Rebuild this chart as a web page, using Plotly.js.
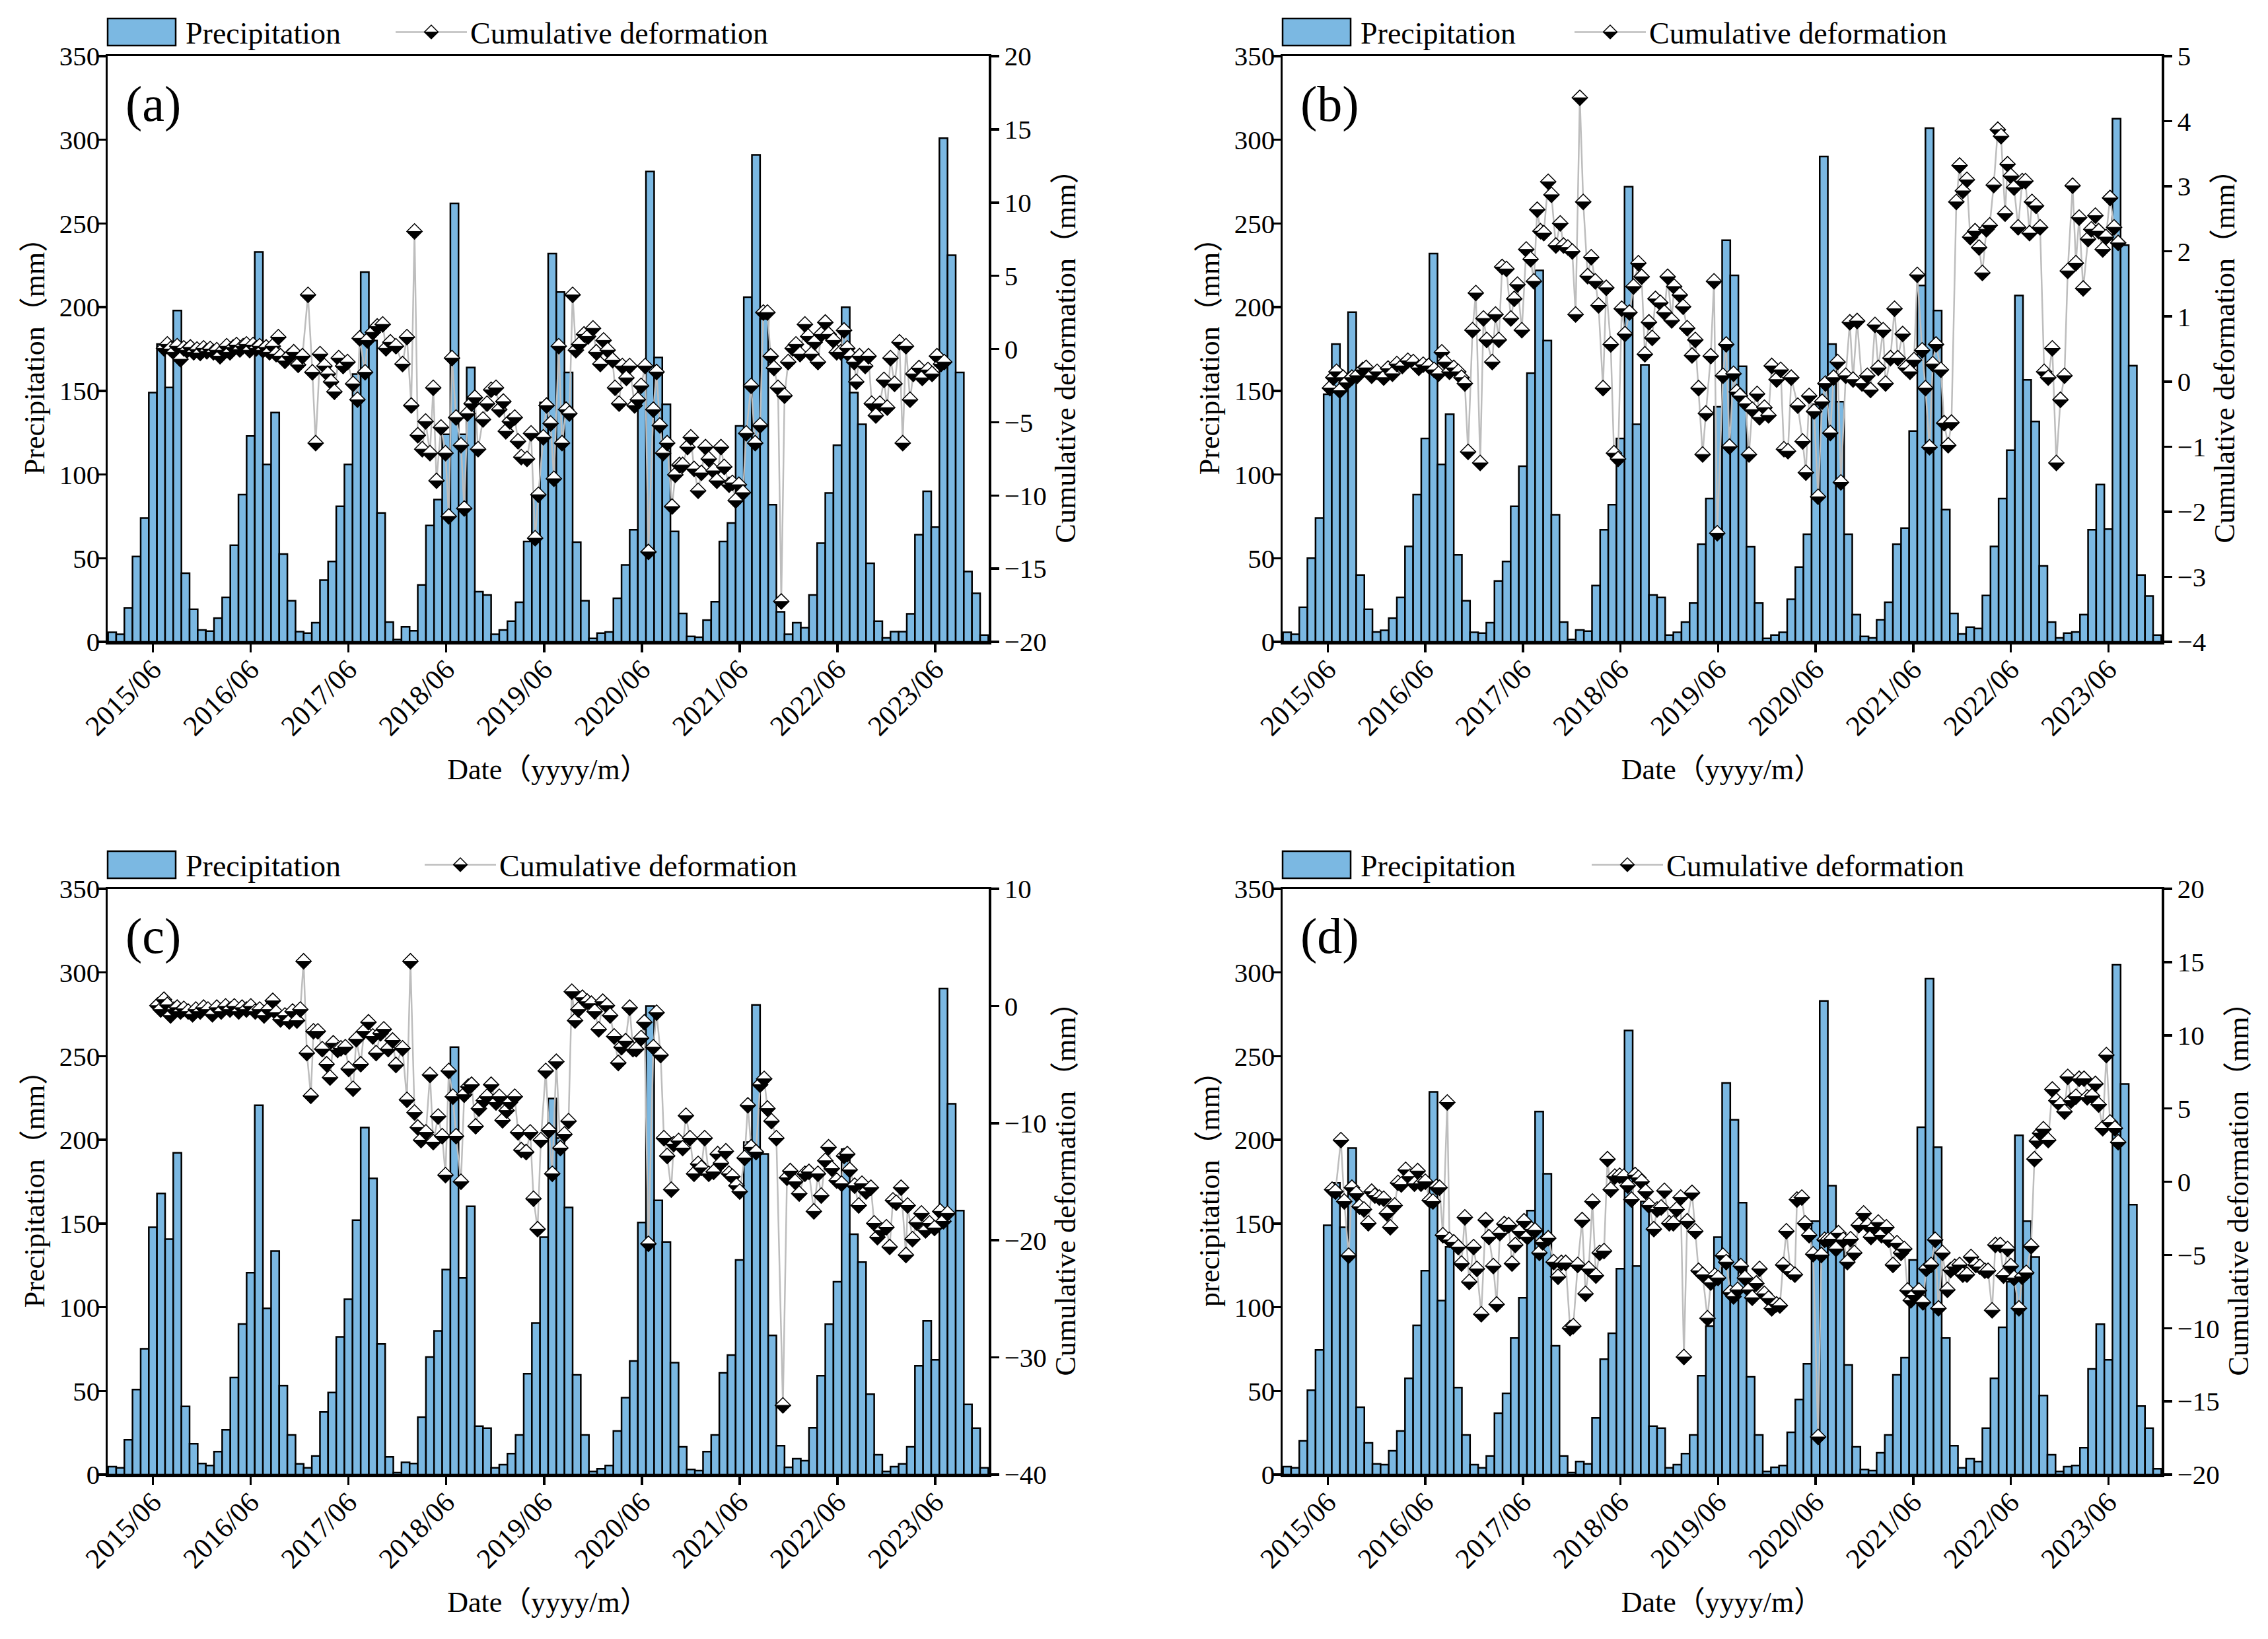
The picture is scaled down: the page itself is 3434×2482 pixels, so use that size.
<!DOCTYPE html>
<html><head><meta charset="utf-8">
<script src="https://cdn.plot.ly/plotly-3.0.1.min.js"></script>
<style>html,body{margin:0;padding:0;background:#fff}#chart{width:3434px;height:2482px}</style>
</head><body><div id="chart"></div>
<script>
// ---------- DATA ----------
// x axis: months since 2015/01 (0 = 2015/01, 107 = 2023/12)
const tickMonths = [5, 17, 29, 41, 53, 65, 77, 89, 101];
const tickLabels = ['2015/06','2016/06','2017/06','2018/06','2019/06','2020/06','2021/06','2022/06','2023/06'];

// monthly precipitation (mm), 2015/01 .. 2023/12
const precipA = [5.7,4.5,20.3,51,74,149,178,152,198,41,19.4,7.1,
  6.4,14.2,26.5,57.7,88,123,233,106,137,52.5,24.6,6.1,
  5.2,11.4,36.9,48,81,106,160,221,180,77,11.8,1.4,
  9.0,6.6,34,69.5,85,124,262,124,164,30,28,4.5,
  7.1,12.3,23.7,60,88.5,143,232,209,161,59.6,24.6,2.1,
  5.2,5.9,26,46,67,151,281,170,142,66,17,3.3,
  2.8,13,24,60,71,129,206,291,193,82,18,4.5,
  11.4,8.5,28,59,89,117.5,200,149,130,47,12.3,2.4,
  6.1,6.1,16.8,64,90,68.6,301,231,161,42,29,4];
const precipB = [5.7,4.5,20.6,50,74,148,178,151,197,40,19.4,5.9,
  6.9,14.2,26.5,57,88,121.5,232,106,136,52,24.6,5.7,
  5.2,11.4,36.4,48,81,105,160.6,222,180,76,11.8,1.4,
  7.1,6.4,33.6,67,82,121.5,272,130,165.5,28,26.5,4,
  5.7,11.8,23.2,58.4,85.6,140.5,240,219,164.6,56.8,23.2,2.1,
  4,5.7,25.5,44.7,64.3,142,290,178,143.5,64.3,16.3,3.3,
  2.4,13.2,23.7,58.4,68,126,213,307,198,79,17,4.7,
  8.8,8,27.7,57,85.6,114.5,207,156.6,131.7,45.4,11.8,2.4,
  5.2,5.9,16.3,67,94,67.4,312.6,237,165,40,27.4,4];
const precipC = [4.7,4.0,20.8,50.8,75.2,147.8,168,140.7,192.3,40.7,18.4,6.6,
  5.4,13.7,26.7,58,90,120.6,220.7,99.3,133.6,53.2,23.7,6.4,
  4,11.1,37.4,49,82.3,104.8,152,207.4,177,78,10.6,1.2,
  7.3,6.6,34.3,70.2,85.8,122.5,255.4,117.5,160.3,28.9,27.7,4,
  5.9,12.5,23.7,60.3,90.6,141.9,224.7,201,159.6,59.6,23.7,1.9,
  3.5,5.4,26,46,67.9,150.6,280,163.9,139,66.9,16.6,3.1,
  2.4,13.7,23.7,60.8,71.4,128.2,198.7,280.7,191.6,83.2,17.3,4.3,
  9.5,8.3,27.9,59.1,89.9,115.2,194.4,143.6,127,48,11.8,1.9,
  4.7,6.4,16.6,65,91.8,68.6,290.4,221.6,157.7,41.9,27.7,4];
const precipD = [4.7,4.0,20.1,50.4,74.5,149,174.3,147.8,195.1,40.2,18.9,6.4,
  5.9,14.2,26,57.5,89.2,121.8,228.7,104,136,52,23.7,5.9,
  4,11.1,36.7,48.5,81.6,105.7,157.7,216.9,179.7,76.9,11.1,1.2,
  7.8,6.4,33.8,69,84.4,123,265.4,124.6,163.2,28.9,27.7,4,
  5.9,12.5,23.7,59.1,88.7,141.9,234,212,162.5,58.4,23.7,1.9,
  4.3,5.4,25.3,44.9,66.2,151.4,283,172.6,139.5,65.5,16.6,3.1,
  2.4,13,23.7,59.6,69.8,128.2,207.6,296.3,195.6,81.6,17.3,4,
  9.5,7.8,27.7,57.5,88,115.2,202.7,151.4,130,47.3,11.8,1.9,
  4.7,5.4,16.1,63.1,89.9,68.6,304.6,233.4,161.3,40.9,27.7,3.5];

// cumulative deformation (mm): [month position, value]
const defA = [[6.36,0.05],[6.77,0.32],[7.17,0.0],[7.58,-0.22],[7.98,0.19],[8.39,-0.70],[8.79,0.05],[9.20,-0.08],[9.60,0.11],[10.01,-0.22],[10.41,-0.03],[10.81,-0.27],[11.22,0.05],[11.62,-0.16],[12.03,0.0],[12.43,-0.22],[12.84,-0.08],[13.24,-0.49],[13.65,-0.08],[14.05,0.19],[14.46,-0.22],[14.86,0.11],[15.26,0.27],[15.67,-0.03],[16.07,0.19],[16.48,0.32],[16.88,-0.08],[17.29,0.27],[17.69,0.05],[18.10,0.19],[18.50,-0.08],[18.90,0.11],[19.31,-0.22],[19.71,0.19],[20.12,-0.35],[20.39,0.81],[20.66,-0.49],[21.20,-0.81],[21.74,-0.49],[22.28,-0.22],[22.82,-1.08],[23.35,-0.49],[24.03,3.70],[24.57,-1.59],[24.97,-6.43],[25.51,-0.35],[26.05,-1.16],[26.46,-1.70],[26.86,-2.24],[27.27,-2.92],[27.80,-0.62],[28.34,-1.16],[28.88,-0.89],[29.56,-2.38],[30.10,-3.46],[30.37,0.73],[31.04,-1.59],[31.31,0.59],[31.98,1.14],[32.52,1.54],[33.20,1.68],[33.60,0.05],[34.14,0.46],[34.82,0.19],[35.63,-1.03],[36.17,0.81],[36.7,-3.86],[37.1,8.03],[37.5,-5.89],[38.05,-6.84],[38.46,-4.95],[39.0,-7.11],[39.4,-2.65],[39.8,-9.0],[40.35,-5.35],[40.9,-7.11],[41.3,-11.43],[41.7,-0.62],[42.2,-4.68],[42.8,-6.57],[43.2,-10.89],[43.6,-4.41],[44.1,-3.73],[44.5,-3.32],[44.9,-6.84],[45.5,-4.81],[46.0,-3.73],[46.5,-2.78],[47.1,-2.65],[47.5,-4.14],[48.0,-3.59],[48.3,-5.62],[48.8,-4.95],[49.4,-4.68],[49.8,-6.30],[50.2,-7.38],[50.9,-7.51],[51.4,-5.76],[51.9,-12.92],[52.3,-9.95],[52.9,-6.03],[53.3,-3.86],[53.8,-5.08],[54.2,-8.86],[54.8,0.19],[55.2,-6.43],[55.7,-4.14],[56.1,-4.41],[56.5,3.70],[56.9,-0.08],[57.3,0.32],[57.9,1.0],[58.4,0.86],[59.0,1.41],[59.4,-0.22],[59.9,-1.03],[60.3,0.59],[60.8,-0.08],[61.4,-0.76],[61.7,-2.65],[62.2,-3.73],[62.6,-1.16],[63.1,-1.97],[63.5,-1.16],[64.1,-3.86],[64.5,-3.46],[64.9,-2.51],[65.4,-1.16],[65.8,-13.86],[66.4,-4.14],[66.8,-1.57],[67.2,-5.22],[67.6,-7.11],[68.1,-6.43],[68.7,-10.76],[69.1,-8.59],[69.6,-7.92],[70.0,-7.92],[70.6,-6.70],[71.0,-6.03],[71.4,-8.19],[71.9,-9.68],[72.3,-8.46],[72.8,-6.70],[73.2,-7.51],[73.8,-8.32],[74.2,-9.0],[74.7,-6.70],[75.1,-8.05],[75.7,-9.27],[76.1,-9.14],[76.5,-10.35],[76.9,-9.27],[77.4,-9.81],[77.8,-5.76],[78.4,-2.51],[78.9,-6.43],[79.5,-5.22],[79.9,2.49],[80.4,2.49],[80.8,-0.49],[81.2,-1.30],[81.7,-2.65],[82.1,-17.24],[82.5,-3.19],[82.95,-0.89],[83.5,0.05],[83.9,0.32],[84.4,-0.35],[85.0,1.68],[85.4,0.86],[85.8,-0.35],[86.2,0.46],[86.6,-0.89],[87.0,1.0],[87.5,1.81],[87.9,1.0],[88.5,0.59],[88.9,-0.22],[89.4,-0.22],[89.8,1.27],[90.2,0.05],[90.6,-0.49],[91.05,-0.89],[91.3,-2.24],[91.7,-0.49],[92.4,-1.16],[92.8,-0.49],[93.2,-3.73],[93.7,-4.54],[94.2,-3.73],[94.7,-2.11],[95.1,-4.0],[95.5,-0.62],[96.0,-2.38],[96.6,0.46],[97.0,-6.43],[97.4,0.19],[97.9,-3.46],[98.3,-1.70],[99.0,-1.30],[99.4,-1.97],[100.1,-1.43],[100.6,-1.70],[101.2,-0.49],[101.7,-1.03],[102.1,-0.89]];
const defB = [[5.27,-0.10],[5.68,0.06],[6.08,0.15],[6.49,-0.14],[6.89,0.06],[7.30,-0.02],[7.97,0.06],[8.64,0.09],[9.32,0.18],[9.72,0.21],[10.4,0.09],[11.07,0.15],[11.88,0.06],[12.42,0.20],[12.96,0.12],[13.5,0.27],[14.17,0.24],[14.85,0.32],[15.52,0.30],[16.2,0.21],[16.74,0.26],[17.41,0.24],[18.08,0.18],[18.62,0.12],[19.03,0.45],[19.43,0.30],[19.97,0.15],[20.5,0.21],[21.05,0.15],[21.45,0.06],[21.86,-0.03],[22.26,-1.08],[22.8,0.79],[23.21,1.36],[23.75,-1.25],[24.15,0.97],[24.55,0.64],[25.23,0.30],[25.63,1.03],[26.04,0.64],[26.44,1.76],[26.98,1.73],[27.52,0.97],[27.93,1.27],[28.33,1.49],[28.87,0.79],[29.41,2.03],[29.95,1.88],[30.35,1.54],[30.76,2.64],[31.16,2.31],[31.57,2.28],[32.11,3.07],[32.51,2.87],[33.05,2.09],[33.59,2.43],[34.0,2.09],[34.53,2.06],[35.07,2.0],[35.48,1.03],[36.0,4.36],[36.42,2.76],[36.96,1.62],[37.4,1.91],[37.9,1.54],[38.3,1.17],[38.85,-0.10],[39.25,1.44],[39.8,0.57],[40.2,-1.10],[40.7,-1.19],[41.15,1.12],[41.55,0.73],[42.1,1.06],[42.6,1.46],[43.2,1.82],[43.6,1.61],[44.0,0.42],[44.5,0.91],[44.9,0.67],[45.3,1.27],[45.9,1.21],[46.4,1.06],[46.8,1.61],[47.3,0.94],[47.6,1.46],[48.3,1.33],[48.7,1.15],[49.2,0.82],[49.8,0.40],[50.2,0.64],[50.6,-0.10],[51.1,-1.12],[51.5,-0.49],[52.1,0.39],[52.5,1.54],[52.9,-2.33],[53.6,0.09],[54.0,0.57],[54.4,-1.0],[54.9,0.12],[55.3,-0.16],[55.7,-0.22],[56.4,-0.34],[56.8,-1.12],[57.2,-0.43],[57.8,-0.19],[58.1,-0.55],[58.7,-0.40],[59.2,-0.52],[59.6,0.24],[60.2,0.03],[60.7,0.18],[61.1,-1.04],[61.6,-1.07],[62.0,0.06],[62.8,-0.37],[63.4,-0.92],[63.8,-1.40],[64.2,-0.22],[64.8,-0.46],[65.3,-1.77],[65.8,-0.31],[66.2,-0.03],[66.8,-0.79],[67.2,0.06],[67.7,0.30],[68.1,-1.55],[68.7,0.09],[69.2,0.91],[69.6,0.03],[70.1,0.93],[70.7,-0.03],[71.35,0.09],[71.75,-0.13],[72.3,0.87],[72.7,0.21],[73.3,0.79],[73.6,-0.03],[74.2,0.36],[74.7,1.12],[75.1,0.36],[75.7,0.73],[76.1,0.21],[76.6,0.15],[77.1,0.33],[77.5,1.64],[78.1,0.48],[78.5,-0.10],[79.0,-1.01],[79.4,0.27],[79.8,0.57],[80.4,0.18],[80.8,-0.64],[81.3,-0.98],[81.7,-0.63],[82.3,2.76],[82.7,3.32],[83.1,2.93],[83.6,3.10],[84.0,2.22],[84.6,2.31],[85.1,2.06],[85.5,1.67],[86.0,2.34],[86.4,2.40],[86.9,3.02],[87.4,3.87],[87.8,3.77],[88.3,2.58],[88.6,3.34],[89.0,3.16],[89.4,2.98],[89.9,2.37],[90.4,3.08],[90.8,3.08],[91.3,2.28],[91.6,2.76],[92.1,2.70],[92.6,2.37],[93.1,0.15],[93.6,0.06],[94.1,0.51],[94.6,-1.25],[95.1,-0.28],[95.6,0.09],[96.0,1.70],[96.6,3.01],[97.0,1.82],[97.4,2.52],[97.9,1.43],[98.5,2.19],[98.9,2.34],[99.4,2.55],[99.8,2.31],[100.3,2.03],[100.7,2.22],[101.2,2.82],[101.7,2.37],[102.2,2.13]];
const defC = [[5.56,0.03],[5.96,-0.30],[6.36,0.54],[6.77,0.10],[7.17,-0.81],[7.58,-0.30],[7.98,-0.14],[8.39,-0.47],[8.79,-0.24],[9.33,-0.47],[9.87,-0.71],[10.27,-0.30],[10.81,-0.47],[11.22,-0.14],[11.76,-0.30],[12.30,-0.71],[12.84,-0.14],[13.38,-0.47],[13.92,-0.03],[14.46,-0.30],[14.99,-0.03],[15.53,-0.47],[15.94,-0.14],[16.48,-0.30],[17.02,-0.03],[17.56,-0.47],[18.10,-0.30],[18.64,-0.81],[19.17,-0.30],[19.71,0.44],[20.12,-0.57],[20.66,-1.15],[21.20,-0.81],[21.74,-1.32],[22.14,-0.47],[22.68,-1.25],[23.09,-0.30],[23.49,3.82],[23.89,-4.02],[24.38,-7.67],[24.70,-2.16],[25.24,-2.16],[25.78,-3.68],[26.32,-4.97],[26.73,-6.11],[27.13,-3.18],[27.67,-3.75],[28.07,-3.61],[28.61,-3.51],[29.02,-5.37],[29.56,-7.06],[29.96,-2.84],[30.50,-4.97],[30.91,-2.16],[31.45,-1.39],[31.98,-2.60],[32.39,-4.02],[32.93,-2.33],[33.33,-1.99],[33.87,-3.68],[34.41,-2.94],[34.82,-5.03],[35.63,-3.61],[36.17,-8.01],[36.6,3.82],[37.1,-9.09],[37.5,-10.37],[37.9,-11.45],[38.5,-10.78],[39.0,-5.88],[39.4,-11.62],[40.0,-9.43],[40.5,-11.11],[40.9,-14.43],[41.3,-5.54],[41.8,-7.74],[42.2,-11.11],[42.8,-15.0],[43.2,-7.57],[43.7,-6.89],[44.1,-6.72],[44.6,-10.27],[45.0,-8.75],[45.6,-8.07],[46.0,-7.74],[46.5,-6.72],[47.1,-8.24],[47.5,-7.74],[47.9,-9.76],[48.4,-8.92],[48.8,-8.24],[49.4,-7.74],[49.8,-10.78],[50.2,-12.30],[50.8,-12.47],[51.3,-10.78],[51.7,-16.45],[52.2,-19.05],[52.6,-11.45],[53.2,-5.54],[53.6,-10.61],[54.0,-14.32],[54.5,-4.76],[55.0,-12.13],[55.5,-10.95],[56.0,-9.83],[56.4,1.22],[56.8,-1.25],[57.2,-0.30],[57.7,0.71],[58.3,0.37],[58.8,0.20],[59.2,-0.47],[59.7,-1.99],[60.2,0.37],[60.7,0.03],[61.1,-0.81],[61.6,-2.60],[62.1,-4.86],[62.5,-3.51],[63.0,-3.0],[63.5,-0.14],[63.9,-3.68],[64.3,-3.68],[64.9,-2.74],[65.3,-1.39],[65.8,-20.30],[66.4,-3.51],[66.8,-0.57],[67.3,-4.19],[67.7,-11.28],[68.1,-12.80],[68.6,-15.68],[68.9,-11.79],[69.5,-11.52],[70.0,-12.13],[70.4,-9.36],[70.9,-11.28],[71.4,-14.32],[71.9,-13.48],[72.3,-13.82],[72.7,-11.28],[73.2,-14.32],[73.8,-14.16],[74.3,-12.64],[74.7,-13.41],[75.3,-12.40],[75.7,-14.32],[76.1,-14.56],[76.6,-15.34],[77.0,-15.84],[77.6,-12.97],[78.0,-8.48],[78.4,-12.06],[79.0,-12.47],[79.5,-6.72],[80.0,-6.22],[80.4,-8.75],[80.9,-9.83],[81.5,-11.28],[82.3,-34.09],[82.8,-14.66],[83.2,-14.09],[83.8,-15.0],[84.3,-16.01],[85.0,-14.32],[85.5,-14.16],[86.1,-17.53],[86.6,-14.32],[87.0,-16.18],[87.5,-13.21],[87.9,-12.06],[88.3,-13.88],[88.9,-14.90],[89.5,-15.17],[89.8,-12.80],[90.2,-12.64],[90.5,-13.99],[91.1,-15.34],[91.6,-17.03],[92.0,-15.17],[92.5,-15.84],[93.1,-15.51],[93.5,-18.55],[93.9,-19.73],[94.4,-19.16],[95.0,-18.89],[95.4,-20.57],[95.8,-16.59],[96.2,-16.79],[96.8,-15.51],[97.4,-21.25],[97.6,-17.03],[98.2,-19.90],[98.7,-18.48],[99.3,-17.70],[99.8,-19.16],[100.3,-18.55],[100.9,-18.95],[101.6,-17.53],[102.0,-18.38],[102.5,-17.70]];
const defD = [[5.54,-0.54],[5.95,-0.68],[6.62,2.84],[7.03,-1.35],[7.57,-5.05],[7.97,-0.41],[8.51,-0.81],[8.91,-1.70],[9.45,-1.89],[9.99,-2.84],[10.40,-0.68],[10.80,-0.95],[11.34,-1.08],[11.88,-1.16],[12.28,-2.16],[12.69,-3.11],[13.23,-1.62],[13.64,-0.08],[14.04,-0.19],[14.58,0.81],[15.12,0.35],[15.66,-0.14],[16.06,0.73],[16.47,-0.14],[17.0,0.0],[17.54,-1.27],[17.94,-1.35],[18.35,-0.35],[18.75,-0.41],[19.16,-3.65],[19.70,5.41],[19.97,-3.97],[20.5,-4.14],[21.05,-4.46],[21.45,-5.59],[21.86,-2.43],[22.40,-6.84],[22.94,-4.46],[23.34,-5.95],[23.88,-9.05],[24.42,-2.62],[24.82,-3.78],[25.36,-5.76],[25.77,-8.38],[26.17,-3.51],[26.71,-2.89],[27.25,-2.97],[27.66,-5.59],[28.06,-4.32],[28.60,-3.38],[29.14,-2.70],[29.55,-3.78],[30.08,-3.24],[30.49,-3.32],[31.03,-4.86],[31.43,-4.14],[32.11,-3.86],[32.78,-5.49],[33.32,-6.49],[33.73,-5.54],[34.26,-5.54],[34.80,-10.0],[35.2,-9.86],[35.74,-5.68],[36.28,-2.62],[36.7,-7.65],[37.1,-5.95],[37.55,-1.35],[37.98,-6.41],[38.44,-4.86],[38.98,-4.73],[39.4,1.54],[39.8,-0.54],[40.3,0.35],[40.9,0.41],[41.4,0.35],[41.9,-0.27],[42.35,-1.22],[42.8,0.46],[43.2,0.27],[43.6,0.0],[44.1,-0.68],[44.5,-1.62],[45.1,-3.24],[45.5,-1.89],[46.0,-1.76],[46.4,-0.62],[47.0,-2.84],[47.5,-2.84],[47.9,-1.89],[48.4,-1.08],[48.8,-11.97],[49.2,-2.70],[49.8,-0.76],[50.2,-3.38],[50.6,-6.08],[51.1,-6.35],[51.7,-9.32],[52.1,-6.89],[52.6,-6.41],[53.0,-6.57],[53.6,-5.05],[54.0,-5.49],[54.5,-7.57],[54.9,-7.84],[55.4,-7.38],[55.8,-5.76],[56.3,-6.57],[56.8,-7.38],[57.2,-7.92],[57.7,-6.95],[58.1,-5.95],[58.7,-7.65],[59.2,-7.97],[59.6,-8.65],[60.2,-8.38],[60.6,-8.46],[61.0,-5.68],[61.4,-3.38],[61.9,-6.14],[62.45,-6.35],[62.7,-1.22],[63.3,-1.08],[63.7,-2.84],[64.2,-3.65],[64.7,-4.95],[65.3,-17.43],[65.7,-5.0],[66.1,-3.97],[66.5,-3.97],[67.0,-3.92],[67.5,-4.59],[67.8,-3.51],[68.4,-3.97],[68.9,-5.49],[69.3,-3.92],[69.75,-4.86],[70.3,-2.97],[70.9,-2.16],[71.4,-2.97],[71.8,-3.78],[72.2,-3.11],[72.7,-2.78],[73.1,-3.65],[73.7,-3.11],[74.0,-3.97],[74.5,-5.68],[75.0,-4.19],[75.5,-4.86],[75.9,-4.59],[76.3,-7.43],[76.7,-8.11],[77.1,-7.76],[77.7,-7.43],[78.2,-8.24],[78.6,-5.95],[79.2,-5.68],[79.7,-3.97],[80.1,-8.65],[80.6,-4.86],[81.2,-7.38],[81.6,-6.03],[82.1,-5.81],[82.7,-5.68],[83.1,-6.35],[83.6,-6.35],[84.1,-5.14],[84.7,-5.68],[85.2,-5.81],[85.8,-6.08],[86.2,-6.08],[86.7,-8.78],[87.1,-4.32],[87.7,-4.32],[88.1,-6.41],[88.6,-4.59],[89.0,-5.76],[89.4,-6.57],[90.0,-8.65],[90.4,-6.49],[90.9,-6.22],[91.5,-4.41],[91.9,1.54],[92.2,2.78],[92.6,3.32],[93.0,3.59],[93.6,2.84],[94.1,6.30],[94.6,5.54],[95.1,5.27],[95.6,4.78],[96.0,7.16],[96.4,5.54],[97.0,5.81],[97.4,7.03],[98.0,7.03],[98.4,5.76],[99.0,5.86],[99.4,6.68],[99.8,5.27],[100.3,3.65],[100.75,8.65],[101.2,4.05],[101.8,3.65],[102.2,2.70]];

const panelLabels = ['(a)','(b)','(c)','(d)'];
const leftTitles = ['Precipitation（mm）','Precipitation（mm）','Precipitation（mm）','precipitation（mm）'];
const rightTitle = 'Cumulative deformation（mm）';
const xTitle = 'Date（yyyy/m）';
const seriesNames = ['Precipitation','Cumulative deformation'];
const rightRanges = [[-20,20],[-4,5],[-40,10],[-20,20]];
const rightSteps = [5,1,10,5];

// ---------- LAYOUT ----------
const W = 3434, H = 2482;
const FONT = '"Liberation Serif", "Times New Roman", "Noto Sans CJK SC", serif';
const XTICKF = {family: FONT, size: 43, color: '#000'};
const YTICKF = {family: FONT, size: 41, color: '#000'};
const TITLEF = {family: FONT, size: 44, color: '#000'};
const boxes = [
  {x0:163, x1:1497, y0:85, y1:972, legLine:599},
  {x0:1942, x1:3273, y0:85, y1:972, legLine:2384},
  {x0:163, x1:1497, y0:1346, y1:2233, legLine:643},
  {x0:1942, x1:3273, y0:1346, y1:2233, legLine:2410}
];
const precips = [precipA, precipB, precipC, precipD];
const defs = [defA, defB, defC, defD];
const barMonths = precipA.map((_, i) => i);

const traces = [];
const layout = {
  width: W, height: H, margin: {l:0, r:0, t:0, b:0},
  paper_bgcolor: '#fff', plot_bgcolor: 'rgba(0,0,0,0)',
  showlegend: true, bargap: 0, hovermode: false,
  font: {family: FONT, color: '#000'},
  annotations: []
};

boxes.forEach((b, i) => {
  const n = i + 1;
  const xa = 'x' + (n === 1 ? '' : n);
  const yl = 'y' + (2*n - 1 === 1 ? '' : 2*n - 1);
  const yr = 'y' + (2*n);
  const legBar = 'legend' + (2*n - 1 === 1 ? '' : 2*n - 1);
  const legDef = 'legend' + (2*n);
  const xd = [b.x0 / W, b.x1 / W];
  const yd = [1 - b.y1 / H, 1 - b.y0 / H];

  traces.push({
    type: 'bar', x: barMonths, y: precips[i], width: 1,
    xaxis: xa, yaxis: yl, name: seriesNames[0], legend: legBar,
    marker: {color: '#7bb8e2', line: {color: '#000', width: 2.5}}
  });
  traces.push({
    type: 'scatter', mode: 'lines+markers',
    x: defs[i].map(p => p[0]), y: defs[i].map(p => p[1]),
    xaxis: xa, yaxis: yr, name: seriesNames[1], legend: legDef, cliponaxis: false,
    line: {color: '#bdbdbd', width: 2.5},
    marker: {symbol: 'diamond', size: 18, color: '#fff', line: {color: '#000', width: 1.5}}
  });

  const axLine = {showline: true, linewidth: 3.5, linecolor: '#000', ticks: 'outside', ticklen: 12,
                  tickwidth: 3.5, tickcolor: '#000', showgrid: false, zeroline: false};
  layout['xaxis' + (n === 1 ? '' : n)] = Object.assign({}, axLine, {
    domain: xd, anchor: yl, range: [-0.55, 107.55], mirror: true, tickfont: XTICKF,
    tickmode: 'array', tickvals: tickMonths, ticktext: tickLabels, tickangle: -45,
    ticklabelstandoff: -16,
    title: {text: xTitle, font: TITLEF, standoff: 28}
  });
  layout['yaxis' + (2*n - 1 === 1 ? '' : 2*n - 1)] = Object.assign({}, axLine, {
    domain: yd, anchor: xa, range: [0, 350], tick0: 0, dtick: 50, tickfont: YTICKF,
    ticklabelstandoff: -12,
    title: {text: leftTitles[i], font: TITLEF, standoff: 9}
  });
  layout['yaxis' + (2*n)] = Object.assign({}, axLine, {
    overlaying: yl, side: 'right', anchor: xa, tickfont: YTICKF,
    range: rightRanges[i], tick0: 0, dtick: rightSteps[i],
    title: {text: rightTitle, font: TITLEF, standoff: 14}
  });
  const legCommon = {
    y: 1 - (b.y0 - 73) / H, xanchor: 'left', yanchor: 'top',
    orientation: 'h', font: {family: FONT, size: 46, color: '#000'},
    bgcolor: 'rgba(0,0,0,0)', borderwidth: 0
  };
  layout[legBar] = Object.assign({}, legCommon, {x: (b.x0 - 15) / W, itemwidth: 123});
  layout[legDef] = Object.assign({}, legCommon, {x: (b.legLine - 5) / W, itemwidth: 108});
  layout.annotations.push({
    text: panelLabels[i], xref: 'paper', yref: 'paper', showarrow: false,
    x: (b.x0 + 25) / W, y: 1 - (b.y0 + 72) / H, xanchor: 'left', yanchor: 'middle',
    font: {family: FONT, size: 76, color: '#000'}
  });
});

const gd = document.getElementById('chart');
Plotly.newPlot(gd, traces, layout, {staticPlot: true, displayModeBar: false}).then(() => {
  const NS = 'http://www.w3.org/2000/svg';
  function halfFill(p) {
    const d = p.getAttribute('d') || '';
    const m = /^M([\d.]+),0L0,([\d.]+)/.exec(d);
    if (!m) return;
    const q = document.createElementNS(NS, 'path');
    q.setAttribute('d', 'M' + m[1] + ',0L0,' + m[2] + 'L-' + m[1] + ',0Z');
    const t = p.getAttribute('transform');
    if (t) q.setAttribute('transform', t);
    q.style.fill = '#000'; q.style.stroke = '#000'; q.style.strokeWidth = '1px';
    p.parentNode.insertBefore(q, p.nextSibling);
  }
  gd.querySelectorAll('.scatterlayer .trace path.point').forEach(halfFill);
  gd.querySelectorAll('.legendpoints path.scatterpts').forEach(halfFill);
  // enlarge the bar legend swatch to the wide box of the original
  gd.querySelectorAll('.legendpoints path').forEach(p => {
    const d = (p.getAttribute('d') || '').replace(/\s/g, '');
    if (/^M6,6H-6V-6H6Z$/.test(d)) p.setAttribute('d', 'M-51.5,-20.5H51.5V20.5H-51.5Z');
  });
});
</script></body></html>
